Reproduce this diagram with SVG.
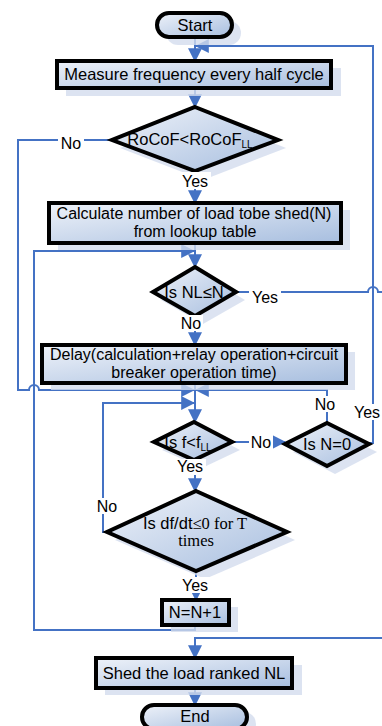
<svg xmlns="http://www.w3.org/2000/svg" width="382" height="726" viewBox="0 0 382 726">
<defs>
<linearGradient id="g" x1="0" y1="0" x2="1" y2="1">
<stop offset="0" stop-color="#eef2f9"/>
<stop offset="1" stop-color="#a7bedf"/>
</linearGradient>
<marker id="ah" markerUnits="userSpaceOnUse" markerWidth="14" markerHeight="14" viewBox="0 0 12 12" refX="11" refY="6" orient="auto">
<path d="M0 0L12 6L0 12z" fill="#4472c4"/>
</marker>
<style>
.sh{fill:#d3dced;opacity:0.8}
.nd{fill:url(#g);stroke:#000;stroke-width:4;stroke-linejoin:miter}
.t{font-family:"Liberation Sans",Arial,sans-serif;font-size:16.5px;fill:#000;text-anchor:middle}
.l{font-size:16px}
.m{font-size:16px}
.ts{font-family:"Liberation Serif","Times New Roman",serif}
.c{fill:none;stroke:#4472c4;stroke-width:2}
.a{marker-end:url(#ah)}
.lb{fill:#fff}
</style>
</defs>
<rect width="382" height="726" fill="#fff"/>

<g id="connectors">
<path class="c a" d="M195 37V61"/>
<path class="c a" d="M369 443H373V46H196"/>
<path class="c a" d="M195 88V107"/>
<path class="c a" d="M112 140H18V390H29a5 5 0 0 1 10 0H194"/>
<path class="c a" d="M195 171V203"/>
<path class="c a" d="M195 243V267"/>
<path class="c a" d="M195 625V630H34V251H194"/>
<path class="c" d="M236 292H368a5 5 0 0 1 10 0H382"/>
<path class="c a" d="M195 316V345"/>
<path class="c a" d="M195 383V422"/>
<path class="c a" d="M327 423V390H196"/>
<path class="c a" d="M107 532H103V403H194"/>
<path class="c a" d="M232 442H285"/>
<path class="c a" d="M195 460V491"/>
<path class="c a" d="M196 571V600"/>
<path class="c a" d="M382 638H195V658"/>
<path class="c a" d="M195 688V705"/>
</g>

<g id="start">
<rect class="sh" x="166" y="21" width="75" height="24" rx="12"/>
<rect class="nd" x="157" y="13" width="75" height="24" rx="12"/>
<text class="t" x="195" y="31" font-size="17">Start</text>
</g>

<g id="measure">
<rect class="sh" x="66" y="68" width="275" height="28"/>
<rect class="nd" x="57" y="61" width="274" height="27"/>
<text class="t" x="194" y="80" font-size="17">Measure frequency every half cycle</text>
</g>

<g id="rocof">
<polygon class="sh" points="203,115 286,148 203,180 120,148"/>
<polygon class="nd" points="195,107 278,140 195,171 112,140"/>
<text class="t" x="190" y="145" font-size="16">RoCoF&lt;RoCoF<tspan font-size="10" dy="3">LL</tspan></text>
</g>

<g id="calc">
<rect class="sh" x="58" y="210" width="292" height="40"/>
<rect class="nd" x="49" y="203" width="292" height="40"/>
<text class="t m" x="194" y="219">Calculate number of load tobe shed(N)</text>
<text class="t m" x="195" y="237">from lookup table</text>
</g>

<g id="nl">
<polygon class="sh" points="203,275 245,300 203,324 161,300"/>
<polygon class="nd" points="195,267 236,292 195,316 153,292"/>
<text class="t" x="194" y="298">Is NL≤N</text>
</g>

<g id="delay">
<rect class="sh" x="51" y="352" width="304" height="38"/>
<rect class="nd" x="42" y="345" width="304" height="38"/>
<text class="t m" x="194" y="360">Delay(calculation+relay operation+circuit</text>
<text class="t m" x="194" y="378">breaker operation time)</text>
</g>

<g id="ffll">
<polygon class="sh" points="202,430 240,450 202,468 162,450"/>
<polygon class="nd" points="194,422 232,442 194,460 154,442"/>
<text class="t" x="188" y="448">Is f&lt;f<tspan font-size="10" dy="3">LL</tspan></text>
</g>

<g id="n0">
<polygon class="sh" points="335,431 377,452 335,474 293,452"/>
<polygon class="nd" points="327,423 369,444 327,466 285,444"/>
<text class="t" x="327" y="450">Is N=0</text>
</g>

<g id="dfdt">
<polygon class="sh" points="205,499 295,540 205,579 115,540"/>
<polygon class="nd" points="196,491 287,532 196,571 107,532"/>
<text class="t" x="195" y="529" font-size="15">Is df/dt<tspan class="ts">≤0 for T</tspan></text>
<text class="t ts" x="196" y="546" font-size="15">times</text>
</g>

<g id="nn1">
<rect class="sh" x="171" y="607" width="67" height="25"/>
<rect class="nd" x="162" y="600" width="67" height="25"/>
<text class="t" x="195" y="618">N=N+1</text>
</g>

<g id="shed">
<rect class="sh" x="105" y="665" width="197" height="30"/>
<rect class="nd" x="96" y="658" width="196" height="30"/>
<text class="t" x="194" y="679" font-size="17">Shed the load ranked NL</text>
</g>

<g id="end">
<rect class="sh" x="151" y="712" width="105" height="24" rx="12"/>
<rect class="nd" x="142" y="705" width="105" height="24" rx="12"/>
<text class="t" x="195" y="722" font-size="17">End</text>
</g>

<g id="labels">
<rect class="lb" x="58" y="135" width="26" height="16"/>
<text class="t l" x="71" y="149">No</text>
<rect class="lb" x="179" y="172" width="32" height="17"/>
<text class="t l" x="195" y="187">Yes</text>
<rect class="lb" x="249" y="289" width="32" height="16"/>
<text class="t l" x="265" y="303">Yes</text>
<rect class="lb" x="179" y="315" width="24" height="16"/>
<text class="t l" x="191" y="329">No</text>
<rect class="lb" x="313" y="396" width="26" height="16"/>
<text class="t l" x="325" y="410">No</text>
<rect class="lb" x="353" y="404" width="29" height="16"/>
<text class="t l" x="367" y="418">Yes</text>
<rect class="lb" x="249" y="435" width="24" height="15"/>
<text class="t l" x="261" y="448">No</text>
<rect class="lb" x="174" y="459" width="32" height="16"/>
<text class="t l" x="190" y="472">Yes</text>
<rect class="lb" x="94" y="498" width="26" height="16"/>
<text class="t l" x="107" y="512">No</text>
<rect class="lb" x="179" y="577" width="32" height="16"/>
<text class="t l" x="195" y="591">Yes</text>
</g>
</svg>
